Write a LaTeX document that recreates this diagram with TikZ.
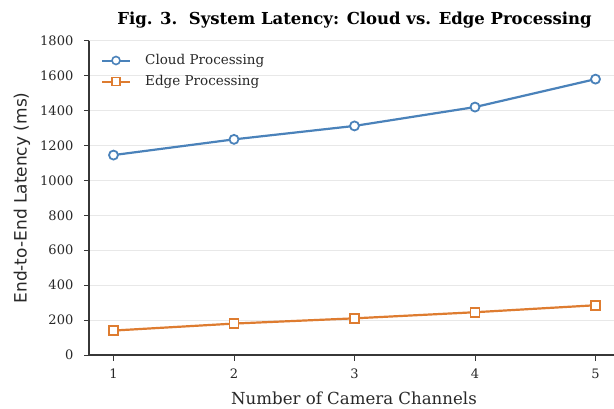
\documentclass[tikz,border=0pt]{standalone}
\usepackage{fontspec}
\setmainfont{DejaVu Serif}
\newfontfamily\labelsans{DejaVu Sans}
\usetikzlibrary{calc}
\definecolor{cloudblue}{RGB}{74,130,186}
\definecolor{edgeorange}{RGB}{222,124,48}
\definecolor{spine}{RGB}{55,55,55}
\definecolor{gridgray}{RGB}{232,232,232}
\definecolor{labelgray}{RGB}{40,40,40}
\newcommand{\fs}[1]{\fontsize{#1}{#1}\selectfont}
\begin{document}
\begin{tikzpicture}[x=1pt,y=-1pt,
  spineline/.style={draw=spine,line width=1.2pt},
  tickmark/.style={draw=spine,line width=1pt},
  gridline/.style={draw=gridgray,line width=0.9pt},
  ticklabel/.style={text=labelgray,font=\fs{13},inner sep=0pt},
  axislabel/.style={text=labelgray,font=\fs{16.6},inner sep=0pt},
  cloudline/.style={draw=cloudblue,line width=2.2pt,line join=round},
  edgeline/.style={draw=edgeorange,line width=2.2pt,line join=round},
  cloudmark/.style={circle,draw=cloudblue,fill=white,line width=1.8pt,minimum size=9pt,inner sep=0pt},
  edgemark/.style={rectangle,draw=edgeorange,fill=white,line width=1.8pt,minimum size=9pt,inner sep=0pt},
  legendtext/.style={text=labelgray,font=\fs{13.5},anchor=west,inner sep=0pt}]
\useasboundingbox (0,0) rectangle (614,408);
\fill[white] (0,0) rectangle (614,408);

% horizontal grid
\foreach \v in {200,400,...,1800}
  \draw[gridline] (89,{355-\v*0.17461}) -- (614,{355-\v*0.17461});

% spines
\coordinate (ytop) at (89,40.7);
\coordinate (origin) at (89,355);
\coordinate (xend) at (614,355);
\draw[spineline] (ytop) -- (origin) -- (xend);

% y ticks and labels
\foreach \v in {0,200,...,1800} {
  \coordinate (yt\v) at (89,{355-\v*0.17461});
  \draw[tickmark] (yt\v) -- ++(-5.5,0);
  \node[ticklabel,anchor=east] (yl\v) at ([xshift=-15.5pt]yt\v) {\v};
}

% x ticks and labels
\foreach \i in {1,...,5} {
  \coordinate (xt\i) at ({113.5+(\i-1)*120.5},355);
  \draw[tickmark] (xt\i) -- ++(0,5.5);
  \node[ticklabel,anchor=north] (xl\i) at ([yshift=-14pt]xt\i) {\i};
}

% axis titles
\node[axislabel] (xlabel) at (354,398) {Number of Camera Channels};
\node[axislabel,font=\fs{17}\labelsans,rotate=90] (ylabel) at (22,198) {End-to-End Latency (ms)};

% title
\node[text=black,font=\fs{16.5}\bfseries,inner sep=0pt] (title) at (354.5,20) {Fig. 3.\ \ System Latency: Cloud vs. Edge Processing};

% data series
\foreach \i/\v in {1/1145,2/1235,3/1312,4/1420,5/1580}
  \coordinate (c\i) at ({113.5+(\i-1)*120.5},{355-\v*0.17461});
\foreach \i/\v in {1/140,2/180,3/210,4/245,5/285}
  \coordinate (e\i) at ({113.5+(\i-1)*120.5},{355-\v*0.17461});

\draw[cloudline] (c1) -- (c2) -- (c3) -- (c4) -- (c5);
\draw[edgeline] (e1) -- (e2) -- (e3) -- (e4) -- (e5);
\foreach \i in {1,...,5} {
  \node[cloudmark] (cm\i) at (c\i) {};
  \node[edgemark] (em\i) at (e\i) {};
}

% legend
\coordinate (lca) at (102,60.5);
\coordinate (lcb) at (130,60.5);
\coordinate (lea) at (102,81.5);
\coordinate (leb) at (130,81.5);
\draw[cloudline,line width=2pt] (lca) -- (lcb);
\node[cloudmark,minimum size=8pt,line width=1.6pt] (lcm) at ($(lca)!0.5!(lcb)$) {};
\node[legendtext] (lct) at (145,60.5) {Cloud Processing};
\draw[edgeline,line width=2pt] (lea) -- (leb);
\node[edgemark,minimum size=8pt,line width=1.6pt] (lem) at ($(lea)!0.5!(leb)$) {};
\node[legendtext] (let) at (145,81.5) {Edge Processing};
\end{tikzpicture}
\end{document}
